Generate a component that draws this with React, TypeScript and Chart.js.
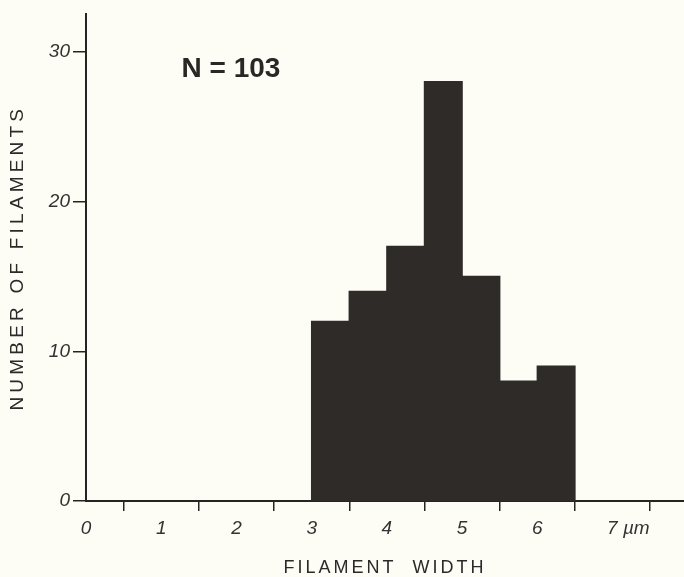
import { useEffect, useRef } from 'react';
import { Chart, registerables, LinearScale } from 'chart.js';

Chart.register(...registerables);

// ---- data ----
const binCenters = [3.25, 3.75, 4.25, 4.75, 5.25, 5.75, 6.25];
const filamentCounts = [12, 14, 17, 28, 15, 8, 9];
const xTickValues = [0, 1, 2, 3, 4, 5, 6, 7];
const xTickLabels = ['0', '1', '2', '3', '4', '5', '6', '      7 µm'];
const yTickValues = [0, 10, 20, 30];
const yTickLabels = ['0', '10', '20', '30'];
const xTitle = 'FILAMENT  WIDTH';
const yTitle = 'NUMBER OF FILAMENTS';
const nLabel = 'N = 103';

const TITLE_SPACING: Record<string, string> = { x: '3px', y: '4.2px' };

class SpacedLinearScale extends LinearScale {
  static id = 'spacedLinear';
  static defaults = LinearScale.defaults;
  drawTitle() {
    const ctx = this.ctx as any;
    ctx.save();
    ctx.letterSpacing = TITLE_SPACING[this.id] || '0px';
    super.drawTitle();
    ctx.restore();
  }
}
Chart.register(SpacedLinearScale);

const INK = '#262422';
const BAR = '#2f2b28';

export default function App() {
  const ref = useRef<HTMLCanvasElement | null>(null);

  useEffect(() => {
    if (!ref.current) return;
    const nPlugin = {
      id: 'nLabel',
      afterDatasetsDraw(chart: any) {
        const { ctx, scales } = chart;
        const x = scales.x;
        const y = scales.y;
        ctx.save();
        ctx.font = 'bold 28px "Liberation Sans", Arial, sans-serif';
        ctx.fillStyle = '#2a2826';
        ctx.textAlign = 'left';
        ctx.textBaseline = 'alphabetic';
        ctx.fillText(nLabel, x.getPixelForValue(1.27), y.getPixelForValue(28.3));
        ctx.restore();
      },
    };

    const chart = new Chart(ref.current, {
      type: 'bar',
      data: {
        datasets: [
          {
            data: binCenters.map((c, i) => ({ x: c, y: filamentCounts[i] })),
            backgroundColor: BAR,
            borderWidth: 0,
            inflateAmount: 0.7,
            barPercentage: 1,
            categoryPercentage: 1,
          } as any,
        ],
      },
      options: {
        responsive: false,
        animation: false,
        devicePixelRatio: 1,
        layout: { padding: { top: 11, left: 0, right: 0, bottom: 0 } },
        plugins: {
          legend: { display: false },
          tooltip: { enabled: false },
        },
        scales: {
          x: {
            type: 'spacedLinear' as any,
            min: 0,
            max: 7.95,
            offset: false,
            afterBuildTicks: (s: any) => {
              s.ticks = xTickValues.map((v) => ({ value: v }));
            },
            afterFit: (s: any) => {
              s.height = 76;
            },
            grid: {
              display: true,
              drawOnChartArea: false,
              drawTicks: true,
              tickLength: 10,
              color: INK,
              lineWidth: 1.5,
            },
            border: { display: true, color: INK, width: 2 },
            ticks: {
              autoSkip: false,
              maxRotation: 0,
              padding: 6,
              color: '#333',
              font: { family: '"Liberation Sans", Arial, sans-serif', size: 19, style: 'italic' },
              callback: (_v: any, i: number) => xTickLabels[i],
            },
            title: {
              display: true,
              text: xTitle,
              color: '#2a2a2a',
              font: { family: '"Liberation Sans", Arial, sans-serif', size: 18, lineHeight: 1 },
              padding: { top: 0, bottom: 0 },
            },
          } as any,
          y: {
            type: 'spacedLinear' as any,
            min: 0,
            max: 32.5,
            afterBuildTicks: (s: any) => {
              s.ticks = yTickValues.map((v) => ({ value: v }));
            },
            afterFit: (s: any) => {
              s.width = 86;
            },
            grid: {
              display: true,
              drawOnChartArea: false,
              drawTicks: true,
              tickLength: 13,
              color: INK,
              lineWidth: 1.5,
            },
            border: { display: true, color: INK, width: 2 },
            ticks: {
              padding: 3,
              color: '#333',
              font: { family: '"Liberation Sans", Arial, sans-serif', size: 19, style: 'italic' },
              callback: (_v: any, i: number) => yTickLabels[i],
            },
            title: {
              display: true,
              text: yTitle,
              color: '#2a2a2a',
              font: { family: '"Liberation Sans", Arial, sans-serif', size: 19, lineHeight: 1 },
              padding: { top: 8, bottom: 0 },
            },
          } as any,
        },
      },
      plugins: [nPlugin],
    });
    return () => chart.destroy();
  }, []);

  return (
    <div
      style={{
        position: 'fixed',
        left: 0,
        top: 0,
        width: 684,
        height: 577,
        background: '#fdfdf6',
      }}
    >
      <canvas ref={ref} width={684} height={577} style={{ width: 684, height: 577, display: 'block' }} />
    </div>
  );
}
